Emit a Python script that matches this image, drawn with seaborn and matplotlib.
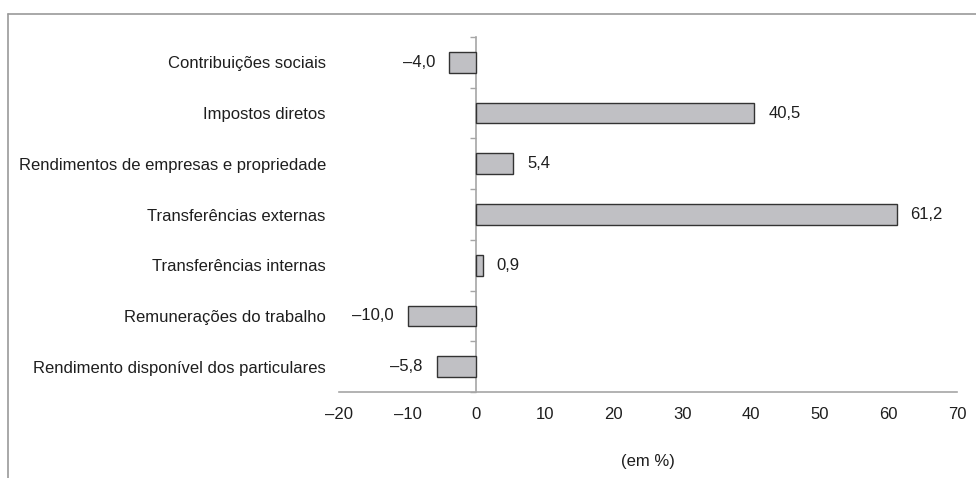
"""Variação das componentes do rendimento (em %) - barras horizontais."""

import matplotlib
matplotlib.use("Agg")
import matplotlib.pyplot as plt
import seaborn as sns
import numpy as np
import pandas as pd

categories = [
    "Contribuições sociais",
    "Impostos diretos",
    "Rendimentos de empresas e propriedade",
    "Transferências externas",
    "Transferências internas",
    "Remunerações do trabalho",
    "Rendimento disponível dos particulares",
]
values = [-4.0, 40.5, 5.4, 61.2, 0.9, -10.0, -5.8]
x_ticks = [-20, -10, 0, 10, 20, 30, 40, 50, 60, 70]

AXIS_GREY = "#a6a6a6"
TEXT = "#1e1e1e"
FS = 12


def _fmt(v: float) -> str:
    return f"{v:.1f}".replace(".", ",").replace("-", "\u2013")


def main() -> None:
    sns.set_style("white")
    plt.rcParams["font.family"] = ["Liberation Sans", "DejaVu Sans"]

    df = pd.DataFrame({"cat": categories, "val": values})

    fig = plt.figure(figsize=(9.76, 4.78), dpi=100)
    ax = fig.add_axes([339 / 976, 1 - 392 / 478, 618 / 976, 355 / 478])

    sns.barplot(data=df, x="val", y="cat", orient="h", color="#c0c0c4",
                edgecolor="#333333", linewidth=1.0, width=0.41, saturation=1, ax=ax)

    # value labels next to the bar ends
    ax.bar_label(ax.containers[0], labels=[_fmt(v) for v in values], padding=10,
                 fontsize=FS, color=TEXT)

    ax.set_xlim(x_ticks[0], x_ticks[-1])
    ax.set_ylim(len(categories) - 0.5, -0.5)
    ax.set_xticks(x_ticks)
    ax.set_xticklabels([str(t).replace("-", "\u2013") for t in x_ticks])
    ax.tick_params(axis="x", length=5, width=1, color=AXIS_GREY, labelsize=FS,
                   labelcolor=TEXT, pad=6)
    ax.tick_params(axis="y", length=0, labelsize=FS, labelcolor=TEXT, pad=9.5)
    ax.set_ylabel("")
    ax.set_xlabel("(em %)", fontsize=FS, color=TEXT, labelpad=23)

    for side in ["top", "right", "left"]:
        ax.spines[side].set_visible(False)
    ax.spines["bottom"].set_color(AXIS_GREY)
    ax.spines["bottom"].set_linewidth(1.2)

    # vertical axis through zero, with ticks between categories
    zero_pos = (0 - x_ticks[0]) / (x_ticks[-1] - x_ticks[0])
    sec = ax.secondary_yaxis(zero_pos)
    sec.set_yticks(np.arange(len(categories) + 1) - 0.5)
    sec.set_yticklabels([])
    sec.tick_params(axis="y", length=4, width=1, color=AXIS_GREY)
    sec.spines["left"].set_color(AXIS_GREY)
    sec.spines["left"].set_linewidth(1.2)

    # outer frame (top and left only)
    frame_kw = dict(transform=fig.transFigure, color="#9a9a9a", linewidth=1.2)
    fig.add_artist(plt.Line2D([8 / 976, 1], [1 - 14 / 478, 1 - 14 / 478], **frame_kw))
    fig.add_artist(plt.Line2D([8 / 976, 8 / 976], [0, 1 - 14 / 478], **frame_kw))

    fig.savefig("out.png", dpi=100)


if __name__ == "__main__":
    main()
